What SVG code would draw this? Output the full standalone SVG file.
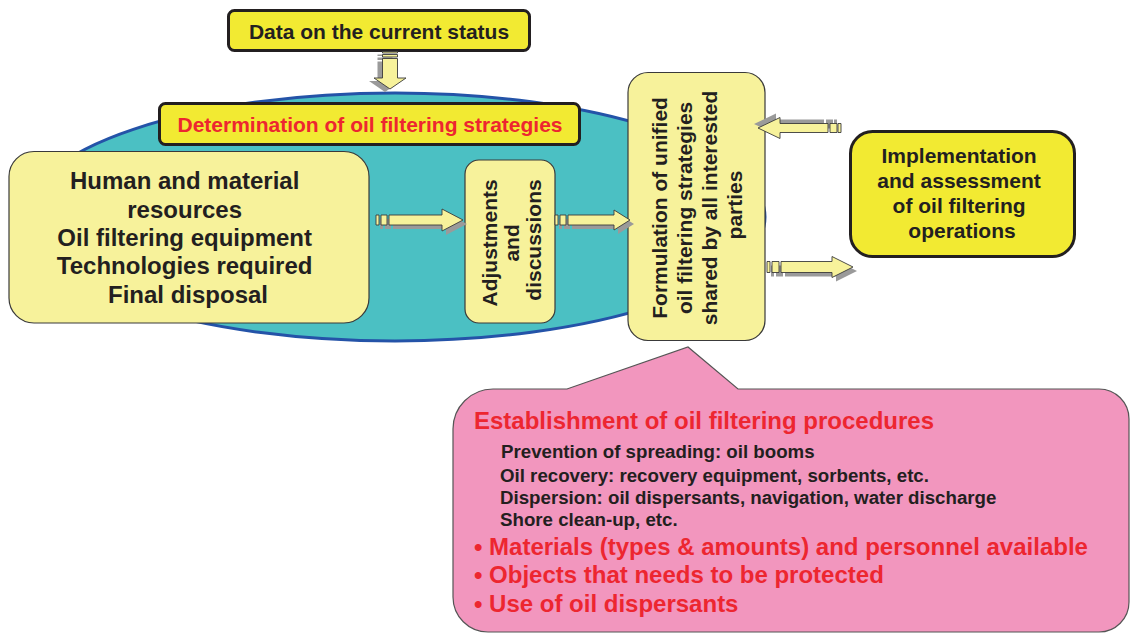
<svg xmlns="http://www.w3.org/2000/svg" xmlns:xlink="http://www.w3.org/1999/xlink" width="1130" height="633" viewBox="0 0 1130 633">
  <style>
    text { font-family: "Liberation Sans", Arial, Helvetica, sans-serif; font-weight: bold; }
    .dark { fill: #231f20; }
    .red { fill: #ed2630; }
    .hi { fill: #f2ea32; stroke: #231f20; stroke-width: 3; }
    .pale { fill: #f7f29b; stroke: #3a3a3a; stroke-width: 1.2; }
    .arrow { fill: #f7f29b; stroke: #3a3a3a; stroke-width: 0.9; stroke-linejoin: miter; }
    .shade { fill: #9a9a9a; stroke: none; }
    .t21 { font-size: 21px; }
    .t24 { font-size: 24px; }
    .t18 { font-size: 18.7px; }
  </style>
  <defs>
    <path id="a-down" d="M382.5,51.5 h15 v1.5 h-15 Z M382.5,54.5 h15 v2.5 h-15 Z M382.5,58.5 H397.5 V78 H406 L390,89 L374,78 H382.5 Z"/>
    <path id="a-res" d="M376,215 h3 v10 h-3 Z M381,215 h6 v10 h-6 Z M389,215 H442 V209 L463,220 L442,231 V225 H389 Z"/>
    <path id="a-adj" d="M555,215 h3 v10 h-3 Z M560,215 h6 v10 h-6 Z M568,215 H614 V210 L630,220 L614,230 V225 H568 Z"/>
    <path id="a-back" d="M758,128 L780,117.5 V123.5 H828 V132.5 H780 V138.5 Z M830,123.5 h7 v9 h-7 Z M838,123.5 h3 v9 h-3 Z"/>
    <path id="a-impl" d="M767,261.5 h3 v11 h-3 Z M772,261.5 h7 v11 h-7 Z M781,261.5 H832 V256.5 L853,267 L832,277.5 V272.5 H781 Z"/>
  </defs>

  <!-- strategy area -->
  <g id="strategy-area">
    <ellipse cx="395" cy="217" rx="370" ry="124" fill="#4bc0c3" stroke="#2453a8" stroke-width="3"/>
  </g>

  <!-- callout with procedures -->
  <g id="procedures">
    <path d="M453,429 A40,40 0 0 1 493,389 L567,389 L688,347 L738,389 L1099,389 A30,30 0 0 1 1129,419 L1129,602 A30,30 0 0 1 1099,632 L488,632 A35,35 0 0 1 453,597 Z" fill="#f296be" stroke="#555" stroke-width="1.2"/>
    <text class="red" x="474" y="429" style="font-size:24px">Establishment of oil filtering procedures</text>
    <text class="dark t18" x="501" y="458">Prevention of spreading: oil booms</text>
    <text class="dark t18" x="500" y="482">Oil recovery: recovery equipment, sorbents, etc.</text>
    <text class="dark t18" x="500" y="504">Dispersion: oil dispersants, navigation, water discharge</text>
    <text class="dark t18" x="500" y="526">Shore clean-up, etc.</text>
    <text class="red t24" x="474" y="555">• Materials (types &amp; amounts) and personnel available</text>
    <text class="red t24" x="474" y="583">• Objects that needs to be protected</text>
    <text class="red t24" x="474" y="612">• Use of oil dispersants</text>
  </g>

  <g id="current-status">
    <rect class="hi" x="228.5" y="10.5" width="301" height="40" rx="6"/>
    <text class="dark t21" x="379" y="39" text-anchor="middle">Data on the current status</text>
  </g>

  <g id="determination">
    <rect class="hi" x="159.5" y="103.5" width="420" height="41" rx="6"/>
    <text class="red t21" x="370" y="132" text-anchor="middle">Determination of oil filtering strategies</text>
  </g>

  <g id="resources">
    <rect class="pale" x="9" y="151.5" width="360" height="171.5" rx="25"/>
    <text class="dark t24" text-anchor="middle">
      <tspan x="188" y="189">Human and material</tspan>
      <tspan x="188" y="218">resources</tspan>
      <tspan x="188" y="246">Oil filtering equipment</tspan>
      <tspan x="188" y="274">Technologies required</tspan>
      <tspan x="188" y="303">Final disposal</tspan>
    </text>
  </g>

  <g id="adjustments">
    <rect class="pale" x="465" y="160" width="90" height="163" rx="14"/>
    <text class="dark t21" text-anchor="middle" transform="translate(0,240) rotate(-90)">
      <tspan x="0" y="497">Adjustments</tspan>
      <tspan x="0" y="519">and</tspan>
      <tspan x="0" y="541">discussions</tspan>
    </text>
  </g>

  <g id="formulation">
    <rect class="pale" x="628" y="72.5" width="137" height="268" rx="20"/>
    <text class="dark t21" text-anchor="middle" transform="translate(0,205) rotate(-90)">
      <tspan x="0" y="667">Formulation of unified</tspan>
      <tspan x="0" y="692">oil filtering strategies</tspan>
      <tspan x="0" y="717">shared by all interested</tspan>
      <tspan x="0" y="742">parties</tspan>
    </text>
  </g>

  <g id="implementation">
    <rect class="hi" x="850.5" y="131.5" width="224" height="125" rx="22"/>
    <text class="dark t21" text-anchor="middle">
      <tspan x="962" y="163">Implementation</tspan>
      <tspan x="962" y="188">and assessment</tspan>
      <tspan x="962" y="213">of oil filtering</tspan>
      <tspan x="962" y="238">operations</tspan>
    </text>
  </g>

  <!-- striped block arrows, each with a drop shadow -->
  <g id="connectors">
    <use xlink:href="#a-down" class="shade" transform="translate(-5,3)"/>
    <use xlink:href="#a-down" class="arrow"/>
    <use xlink:href="#a-res" class="shade" transform="translate(4,4)"/>
    <use xlink:href="#a-res" class="arrow"/>
    <use xlink:href="#a-adj" class="shade" transform="translate(4,4)"/>
    <use xlink:href="#a-adj" class="arrow"/>
    <use xlink:href="#a-back" class="shade" transform="translate(-4,-4)"/>
    <use xlink:href="#a-back" class="arrow"/>
    <use xlink:href="#a-impl" class="shade" transform="translate(4,4)"/>
    <use xlink:href="#a-impl" class="arrow"/>
  </g>
</svg>
